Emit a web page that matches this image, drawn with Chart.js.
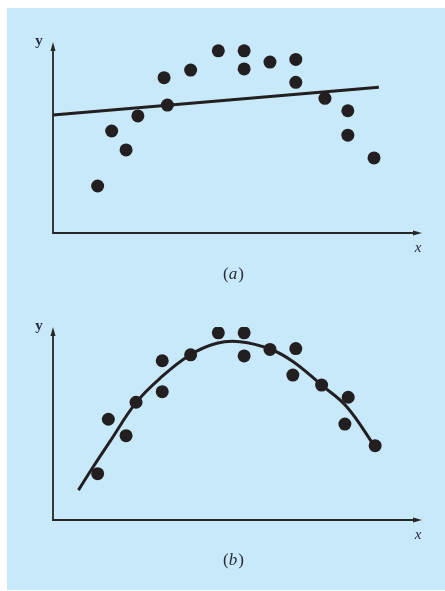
<!DOCTYPE html>
<html>
<head>
<meta charset="utf-8">
<script src="https://cdn.jsdelivr.net/npm/chart.js@4"></script>
<style>
  body { margin: 0; background: #fff; }
  #page { position: absolute; left: 7px; top: 8px; width: 438px; height: 582px; background: #c7e9fa; }
  canvas { position: absolute; left: 0; }
  #chartA { top: 0; }
  #chartB { top: 290px; }
</style>
</head>
<body>
<div id="page"></div>
<canvas id="chartA" width="445" height="290"></canvas>
<canvas id="chartB" width="445" height="301"></canvas>
<script>
// panel (a): data points and straight-line fit
const xA = [1.21, 1.59, 1.98, 2.30, 3.01, 3.10, 3.73, 4.48, 5.18, 5.18, 5.88, 6.58, 6.58, 7.37, 7.99, 7.99, 8.70];
const yA = [2.46, 5.34, 4.35, 6.13, 8.13, 6.70, 8.53, 9.54, 9.54, 8.59, 8.95, 9.09, 7.89, 7.05, 6.40, 5.12, 3.93];
const lineX = [0, 8.83];
const lineY = [6.18, 7.63];

// panel (b): same data, parabola fit
const xB = [1.21, 1.50, 1.98, 2.25, 2.96, 2.96, 3.73, 4.48, 5.18, 5.18, 5.88, 6.58, 6.50, 7.28, 8.00, 7.91, 8.73];
const yB = [2.40, 5.22, 4.37, 6.10, 8.25, 6.65, 8.56, 9.70, 9.70, 8.50, 8.84, 8.88, 7.51, 6.99, 6.36, 4.97, 3.85];
const curveX = [0.69, 1.09, 1.54, 2.25, 2.90, 3.71, 4.44, 5.07, 5.88, 6.51, 7.28, 7.96, 8.73];
const curveY = [1.55, 2.76, 4.06, 6.08, 7.34, 8.55, 9.16, 9.24, 8.86, 8.20, 6.99, 5.87, 3.78];

const ink = '#231f20';

function pts(xs, ys) {
  return xs.map((x, i) => ({ x: x, y: ys[i] }));
}

// axes with arrows, axis letters and caption
function axesPlugin(caption) {
  return {
    id: 'axes',
    beforeDatasetsDraw(chart) {
      const c = chart.ctx;
      const a = chart.chartArea;
      c.save();
      c.strokeStyle = '#262626';
      c.fillStyle = '#262626';
      c.lineWidth = 1.8;
      c.beginPath();
      c.moveTo(a.left, a.top + 4);
      c.lineTo(a.left, a.bottom);
      c.lineTo(a.right - 4, a.bottom);
      c.stroke();
      // arrowheads
      c.beginPath();
      c.moveTo(a.left, a.top);
      c.lineTo(a.left - 2.5, a.top + 9);
      c.lineTo(a.left + 2.5, a.top + 9);
      c.closePath();
      c.fill();
      c.beginPath();
      c.moveTo(a.right, a.bottom);
      c.lineTo(a.right - 9, a.bottom - 2.5);
      c.lineTo(a.right - 9, a.bottom + 2.5);
      c.closePath();
      c.fill();

      c.fillStyle = '#2a2a4a';
      c.textAlign = 'center';
      c.textBaseline = 'middle';
      c.font = 'bold 15px "Liberation Serif", serif';
      c.fillText('y', a.left - 14, a.top - 1);
      c.font = 'italic 15px "Liberation Serif", serif';
      c.fillText('x', a.right - 4, a.bottom + 15);

      c.fillStyle = '#2a2a3a';
      c.font = '17px "Liberation Serif", serif';
      const cx = 233, cy = a.bottom + caption.dy;
      const w1 = c.measureText('(').width;
      c.font = 'italic 17px "Liberation Serif", serif';
      const w2 = c.measureText(caption.letter).width;
      const total = w1 * 2 + w2;
      c.textAlign = 'left';
      let x0 = cx - total / 2;
      c.font = '17px "Liberation Serif", serif';
      c.fillText('(', x0, cy);
      c.font = 'italic 17px "Liberation Serif", serif';
      c.fillText(caption.letter, x0 + w1, cy);
      c.font = '17px "Liberation Serif", serif';
      c.fillText(')', x0 + w1 + w2 + 1, cy);
      c.restore();
    }
  };
}

function makeChart(id, xs, ys, fx, fy, tension, pad, caption) {
  new Chart(document.getElementById(id), {
    type: 'scatter',
    data: {
      datasets: [{
        data: pts(fx, fy),
        showLine: true,
        borderColor: ink,
        borderWidth: 3,
        pointRadius: 0,
        tension: tension
      }, {
        data: pts(xs, ys),
        backgroundColor: ink,
        borderColor: ink,
        pointRadius: 6.5,
        borderWidth: 0
      }]
    },
    options: {
      responsive: false,
      devicePixelRatio: 1,
      animation: false,
      layout: { padding: pad },
      plugins: { legend: { display: false }, tooltip: { enabled: false } },
      scales: {
        x: { min: 0, max: 10, display: false },
        y: { min: 0, max: 10, display: false }
      }
    },
    plugins: [axesPlugin(caption)]
  });
}

makeChart('chartA', xA, yA, lineX, lineY, 0,
  { left: 53, right: 23, top: 42, bottom: 57 }, { letter: 'a', dy: 42 });
makeChart('chartB', xB, yB, curveX, curveY, 0.4,
  { left: 53, right: 23, top: 37, bottom: 71 }, { letter: 'b', dy: 41 });
</script>
</body>
</html>
